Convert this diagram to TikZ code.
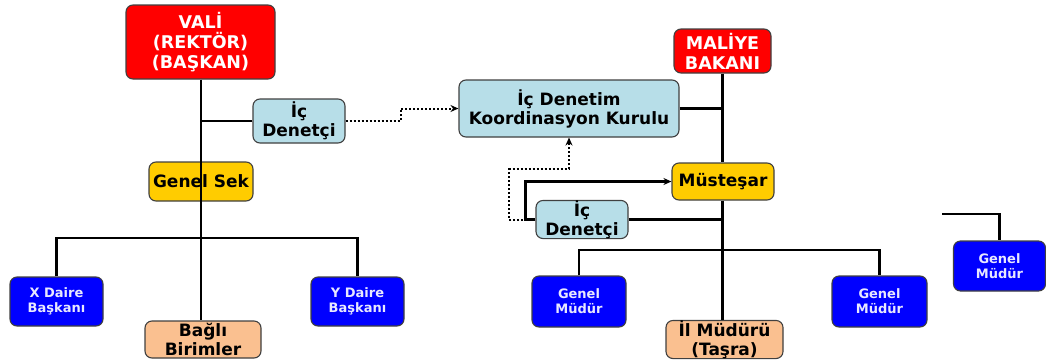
\documentclass[tikz,border=0pt]{standalone}
\usepackage{fontspec}
\setmainfont{DejaVu Sans}
\usetikzlibrary{arrows.meta,calc}
\definecolor{cred}{HTML}{FF0000}
\definecolor{cyel}{HTML}{FFCC00}
\definecolor{clb}{HTML}{B7DEE8}
\definecolor{cblue}{HTML}{0000FF}
\definecolor{cpeach}{HTML}{FAC090}
\definecolor{cbord}{HTML}{404040}
\definecolor{clav}{HTML}{E8E8FF}
\tikzset{
  box/.style={draw=cbord, line width=1.1pt, rounded corners=7pt, align=center, inner sep=0pt, font=\bfseries\fontsize{17}{19}\selectfont},
  redbox/.style={box, fill=cred, text=white, font=\bfseries\fontsize{17.5}{20}\selectfont},
  yelbox/.style={box, fill=cyel, text=black},
  lbbox/.style={box, fill=clb, text=black},
  bluebox/.style={box, fill=cblue, text=clav, font=\bfseries\fontsize{13}{15}\selectfont},
  peachbox/.style={box, fill=cpeach, text=black},
  conn/.style={draw=black, line width=2.2pt},
  dotconn/.style={draw=black, line width=2pt, dash pattern=on 2pt off 2pt},
  tip/.style={-{Stealth[length=8pt,width=7pt]}}
}
\begin{document}
\begin{tikzpicture}[x=1pt,y=-1pt]
\useasboundingbox (0,0) rectangle (1046,362);
% left side
\node[redbox, minimum width=149pt, minimum height=74pt] (vali) at (200.5,42) {VALİ\\(REKTÖR)\\(BAŞKAN)};
\node[lbbox, minimum width=92pt, minimum height=44pt] (icl) at (299,121) {İç\\Denetçi};
\node[yelbox, minimum width=104pt, minimum height=39pt] (gsek) at (201,181.5) {Genel Sek};
\node[bluebox, minimum width=93pt, minimum height=49pt] (xd) at (56.5,301.5) {X Daire\\Başkanı};
\node[bluebox, minimum width=93pt, minimum height=49pt] (yd) at (357.5,301.5) {Y Daire\\Başkanı};
\node[peachbox, minimum width=116pt, minimum height=37pt] (bagli) at (203,339.5) {Bağlı\\Birimler};
% right side
\node[lbbox, minimum width=220pt, minimum height=57pt] (kurul) at (569,108.5) {İç Denetim\\Koordinasyon Kurulu};
\node[redbox, minimum width=97pt, minimum height=44pt] (maliye) at (722.5,51) {MALİYE\\BAKANI};
\node[yelbox, minimum width=102pt, minimum height=37pt] (mus) at (723,181.5) {Müsteşar};
\node[lbbox, minimum width=92pt, minimum height=37pt] (icr) at (582,219.5) {İç\\Denetçi};
\node[bluebox, minimum width=94pt, minimum height=51pt] (gm1) at (579,301.5) {Genel\\Müdür};
\node[bluebox, minimum width=95pt, minimum height=51pt] (gm2) at (879.5,301.5) {Genel\\Müdür};
\node[peachbox, minimum width=117pt, minimum height=37pt] (il) at (724.5,339.5) {İl Müdürü\\(Taşra)};
\node[bluebox, minimum width=92pt, minimum height=50pt] (gm3) at (999.5,266) {Genel\\Müdür};
% coordinates
\coordinate (j1) at (201,238);
\coordinate (j2) at (722.5,250);
\coordinate (e3) at (942,214);
% left connectors
\draw[conn] (vali.south -| j1) -- (j1 |- bagli.north);
\draw[conn] (icl.west) -- (icl.west -| j1);
\draw[conn] (xd.north) |- (j1) -| (yd.north);
\draw[dotconn, tip] (icl.east) -- ++(55,0) |- (kurul.west);
% right connectors
\draw[conn] (maliye.south) -- (maliye.south |- mus.north);
\draw[conn] (maliye.south |- mus.south) -- (maliye.south |- il.north);
\draw[conn] (kurul.east) -- (kurul.east -| maliye.south);
\draw[conn] (icr.east) -- (icr.east -| maliye.south);
\draw[dotconn, tip] (icr.west) -- ++(-26,0) |- ($(kurul.south)+(0,31)$) -- (kurul.south);
\draw[conn, tip] (icr.west) -- ++(-10,0) |- (mus.west);
\draw[conn] (gm1.north) |- (j2) -| (gm2.north);
\draw[conn] (e3) -| (gm3.north);
\end{tikzpicture}
\end{document}
